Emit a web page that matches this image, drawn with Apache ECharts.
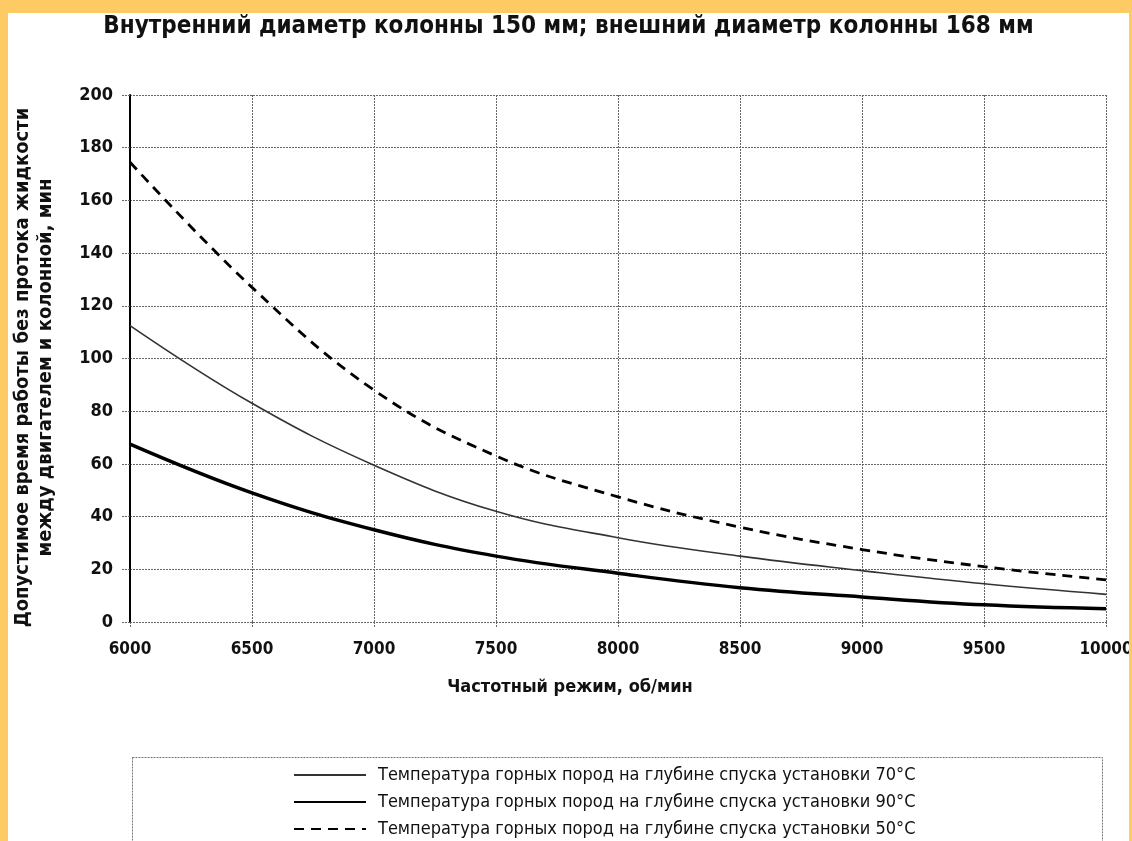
<!DOCTYPE html>
<html>
<head>
<meta charset="utf-8">
<script src="https://cdn.jsdelivr.net/npm/echarts@6/dist/echarts.min.js"></script>
<style>
html,body{margin:0;padding:0;}
body{width:1132px;height:841px;background:#FDCA64;position:relative;overflow:hidden;}
#chart{position:absolute;left:8px;top:13px;width:1121px;height:828px;background:#fff;}
</style>
</head>
<body>
<div id="chart"></div>
<script>
const titleText = 'Внутренний диаметр колонны 150 мм; внешний диаметр колонны 168 мм';
const xName = 'Частотный режим, об/мин';
const yName = 'Допустимое время работы без протока жидкости\nмежду двигателем и колонной, мин';
const rpm = [6000, 6500, 7000, 7500, 8000, 8500, 9000, 9500, 10000];
const t70 = [112.5, 83, 59.5, 42, 32, 25, 19.5, 14.5, 10.5];
const t90 = [67.5, 49, 35, 25, 18.5, 13, 9.5, 6.5, 5];
const t50 = [174.5, 127, 88, 63, 47.5, 36, 27.5, 21, 16];
const names = [
  'Температура горных пород на глубине спуска установки 70°C',
  'Температура горных пород на глубине спуска установки 90°C',
  'Температура горных пород на глубине спуска установки 50°C'
];
const pairs = arr => rpm.map((x, i) => [x, arr[i]]);
const FONT = '"DejaVu Sans Condensed", "DejaVu Sans", sans-serif';
const gridLine = {show: true, lineStyle: {color: '#666', type: [2, 1], width: 1}};

const chart = echarts.init(document.getElementById('chart'));
chart.setOption({
  backgroundColor: '#fff',
  animation: false,
  title: {
    text: titleText, left: 'center', top: 2, padding: 0,
    textStyle: {fontFamily: FONT, fontWeight: 'bold', fontSize: 24, color: '#111'}
  },
  grid: {left: 122, right: 23, top: 82, bottom: 219, outerBoundsMode: 'none', containLabel: false},
  xAxis: {
    type: 'value', min: 6000, max: 10000, interval: 500,
    name: xName, nameLocation: 'middle', nameGap: 56,
    nameTextStyle: {fontFamily: FONT, fontWeight: 'bold', fontSize: 18, color: '#111', padding: [0, 96, 0, 0]},
    axisLine: {show: false},
    axisTick: {show: true, length: 6, lineStyle: {color: '#666', type: [2, 1]}},
    axisLabel: {fontFamily: FONT, fontWeight: 'bold', fontSize: 17, color: '#111', margin: 19,
      formatter: v => String(v)},
    splitLine: gridLine
  },
  yAxis: {
    type: 'value', min: 0, max: 200, interval: 20,
    name: yName, nameLocation: 'middle', nameGap: 73, nameRotate: 90,
    nameTextStyle: {fontFamily: FONT, fontWeight: 'bold', fontSize: 20, color: '#111', lineHeight: 23,
      padding: [0, 18, 0, 0]},
    axisLine: {show: true, lineStyle: {color: '#000', width: 2}},
    axisTick: {show: true, length: 8, lineStyle: {color: '#666', type: [2, 1]}},
    axisLabel: {fontFamily: FONT, fontWeight: 'bold', fontSize: 18, color: '#111', margin: 17,
      formatter: v => String(v)},
    splitLine: gridLine
  },
  legend: {
    orient: 'vertical', left: 280, top: 747, height: 140,
    itemWidth: 72, itemHeight: 14, itemGap: 7,
    data: names,
    itemStyle: {opacity: 0},
    textStyle: {fontFamily: FONT, fontSize: 18, lineHeight: 20, color: '#111', padding: [0, 0, 0, 7]}
  },
  graphic: [{
    type: 'rect', left: 122, top: 742, silent: true,
    shape: {width: 970, height: 120},
    style: {fill: 'none', stroke: '#777', lineWidth: 1, lineDash: [2, 1]}
  }],
  series: [
    {name: names[0], type: 'line', data: pairs(t70), smooth: 0.4, symbol: 'none',
     lineStyle: {color: '#333', width: 1.6}, itemStyle: {color: '#333'}},
    {name: names[1], type: 'line', data: pairs(t90), smooth: 0.4, symbol: 'none',
     lineStyle: {color: '#000', width: 3.5}, itemStyle: {color: '#000'}},
    {name: names[2], type: 'line', data: pairs(t50), smooth: 0.4, symbol: 'none',
     lineStyle: {color: '#000', width: 2.8, type: [10, 7]}, itemStyle: {color: '#000'}}
  ]
});
</script>
</body>
</html>
